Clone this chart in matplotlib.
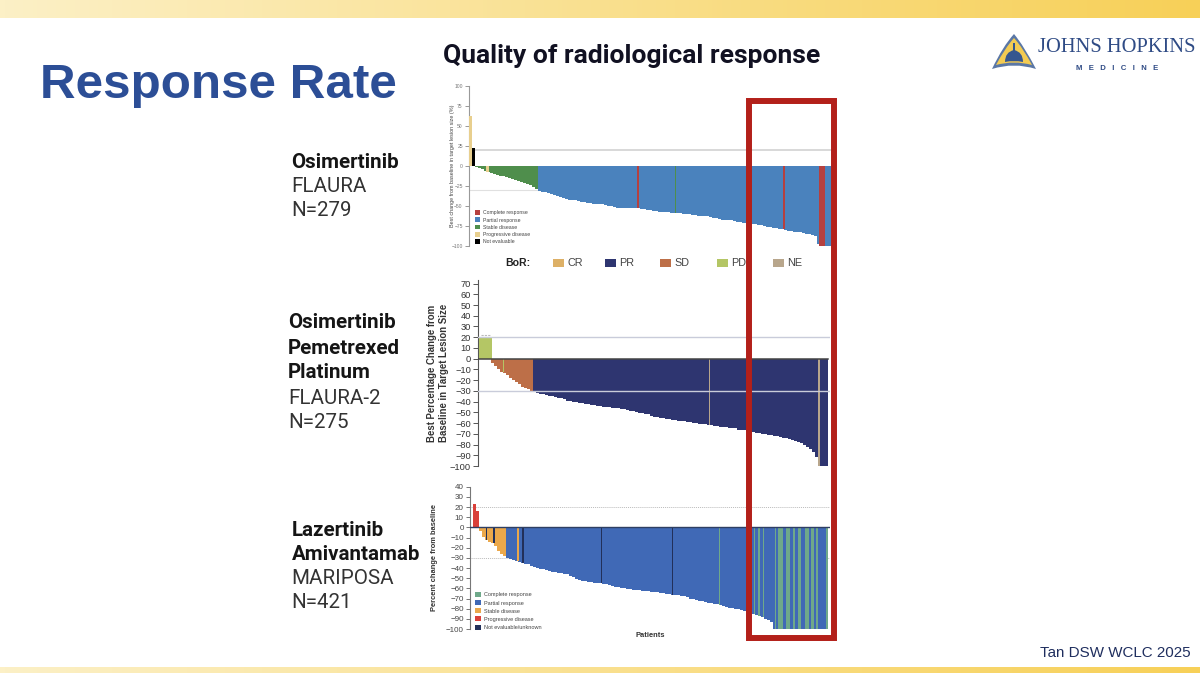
import numpy as np
import matplotlib
matplotlib.use("Agg")
import matplotlib.pyplot as plt
from matplotlib.patches import Rectangle, Patch, PathPatch
from matplotlib.path import Path

W, H = 1200, 673

# ---------- data ----------
p1_values = [62, 22, -1, -2, -4, -6, -8, -9, -10, -11, -12, -13, -14, -15, -16, -17, -19, -20, -21, -22, -24, -26, -29,
             -31, -32, -33, -34, -35, -36, -38, -39, -40, -41, -42, -43, -43, -44, -45, -45, -46, -46, -47, -47, -48, -48,
             -49, -50, -50, -51, -52, -52, -52, -53, -53, -53, -53, -53, -54, -54, -55, -55, -56, -56, -57, -58, -58, -58,
             -59, -59, -59, -59, -60, -60, -60, -61, -61, -62, -62, -63, -63, -64, -65, -65, -66, -67, -67, -68, -68, -69,
             -70, -70, -71, -71, -72, -73, -73, -74, -74, -75, -76, -76, -77, -78, -79, -79, -80, -81, -81, -82, -83, -83,
             -84, -85, -85, -86, -88, -98, -100, -100, -100, -100]
p1_runs = [("PD", 1), ("NE", 1), ("SD", 21), ("PR", 100)]
p1_marks = [(5.7, 1.0, "PD"), (55.9, 0.55, "CR"), (68.3, 0.55, "SD"), (104.4, 0.6, "CR"), (117.2, 2.0, "CR")]

p2_values = [20, 20, 20, 20, -4, -7, -10, -12, -13, -15, -18, -20, -22, -24, -26, -27, -28, -30,
             -31, -32, -33, -33, -34, -35, -35, -36, -37, -37, -38, -39, -39, -40, -40, -41, -41, -42, -42, -43, -43, -44,
             -44, -45, -45, -45, -46, -46, -46, -47, -47, -48, -49, -49, -50, -51, -51, -52, -52, -53, -54, -54, -55, -55,
             -56, -56, -57, -57, -58, -58, -58, -59, -59, -60, -60, -61, -61, -61, -62, -62, -63, -63, -64, -64, -64, -65,
             -65, -65, -66, -66, -66, -67, -68, -68, -69, -69, -70, -70, -71, -71, -72, -72, -73, -74, -74, -75, -76, -77,
             -78, -79, -80, -82, -84, -87, -92, -100, -100, -100]
p2_runs = [("PD", 4), ("SD", 14), ("PR", 100)]
p2_marks = [(7.4, 0.35, "PD"), (76.2, 0.3, "NE"), (112.6, 0.5, "NE")]

p3_values = [23, 16, -4, -9, -12, -14, -15, -18, -23, -26, -28,
             -30, -31, -32, -33, -34, -35, -36, -36, -38, -39, -40, -41, -41, -42, -43, -44, -44, -45, -45, -46, -46, -48,
             -49, -51, -52, -53, -53, -54, -54, -55, -55, -55, -56, -56, -57, -58, -59, -59, -60, -60, -61, -61, -62, -62,
             -62, -63, -63, -63, -64, -64, -64, -65, -65, -66, -66, -67, -67, -67, -68, -68, -69, -70, -70, -71, -72, -72,
             -73, -74, -74, -75, -75, -76, -77, -78, -79, -79, -80, -80, -81, -82, -83, -84, -85, -86, -87, -88, -90, -91,
             -93, -100, -100, -100, -100, -100, -100, -100, -100, -100, -100, -100, -100, -100, -100, -100, -100, -100, -100]
p3_runs = [("PD", 2), ("SD", 9), ("PR", 110)]
p3_marks = [(3.9, 0.35, "NE"), (6.4, 0.6, "NE"), (14.4, 0.4, "SD"), (16.1, 0.6, "NE"), (42.2, 0.4, "NE"),
            (66.0, 0.4, "NE"), (81.7, 0.3, "CR"), (93.3, 0.4, "CR"), (94.7, 0.4, "CR"), (96.2, 0.4, "CR"),
            (100.3, 0.4, "CR"), (101.85, 1.9, "CR"), (104.3, 1.4, "CR"), (106.5, 0.8, "CR"), (108.2, 0.8, "CR"),
            (110.65, 1.3, "CR"), (112.65, 0.9, "CR"), (114.1, 0.6, "CR"), (117.25, 0.7, "CR")]

p1_ticks = [100, 75, 50, 25, 0, -25, -50, -75, -100]
p2_ticks = [70, 60, 50, 40, 30, 20, 10, 0, -10, -20, -30, -40, -50, -60, -70, -80, -90, -100]
p3_ticks = [40, 30, 20, 10, 0, -10, -20, -30, -40, -50, -60, -70, -80, -90, -100]

resp_long = ["Complete response", "Partial response", "Stable disease", "Progressive disease"]
p3_legend_last = "Not evaluable/unknown"
p1_legend_last = "Not evaluable"
bor_labels = ["CR", "PR", "SD", "PD", "NE"]

# ---------- colours ----------
p1_col = {"CR": "#B5403F", "PR": "#4A82BD", "SD": "#4F8E4C", "PD": "#E8CF8E", "NE": "#000000"}
p2_col = {"CR": "#DDB066", "PR": "#2E3570", "SD": "#BD6F48", "PD": "#B4C665", "NE": "#B8A68C"}
p3_col = {"CR": "#6FA98A", "PR": "#4069B6", "SD": "#EBA84B", "PD": "#D9403A", "NE": "#22305A"}
NAVY = "#2C4E96"

fig = plt.figure(figsize=(W / 100, H / 100), dpi=100, facecolor="white")


def rect_axes(x0, y0, x1, y1, **kw):
    return fig.add_axes([x0 / W, 1 - y1 / H, (x1 - x0) / W, (y1 - y0) / H], **kw)


# ---------- background layer ----------
bg = rect_axes(0, 0, W, H, zorder=0)
bg.set_xlim(0, W)
bg.set_ylim(H, 0)
bg.axis("off")
grad = np.linspace(0, 1, 256)[None, :, None]
c0 = np.array([252, 240, 198]) / 255
c1 = np.array([247, 208, 88]) / 255
band = c0 + (c1 - c0) * grad
bg.imshow(band, extent=(0, W, 18, 0), aspect="auto")
bg.imshow(band, extent=(0, W, H, 667), aspect="auto")
bg.set_xlim(0, W)
bg.set_ylim(H, 0)

bg.text(40, 98, "Response Rate", color=NAVY, fontsize=35.6, fontweight="bold",
        family="Liberation Sans", ha="left", va="baseline")
bg.text(443, 56, "Quality of radiological response", color="#111122", fontsize=19, fontweight="bold",
        family="Roboto", ha="left", va="center")
bg.text(1191, 653, "Tan DSW WCLC 2025", color="#1F2E5E", fontsize=10.9, family="Liberation Sans",
        ha="right", va="center")

blocks = [
    (291, [("Osimertinib", 162, True), ("FLAURA", 186, False), ("N=279", 211, False)]),
    (288, [("Osimertinib", 323, True), ("Pemetrexed", 349, True), ("Platinum", 373, True),
           ("FLAURA-2", 398, False), ("N=275", 423, False)]),
    (291.5, [("Lazertinib", 530, True), ("Amivantamab", 555, True), ("MARIPOSA", 578, False), ("N=421", 603, False)]),
]
for x, rows in blocks:
    for label, y, bold in rows:
        bg.text(x, y, label, family="Roboto", fontsize=14.8, va="center", ha="left",
                fontweight="bold" if bold else "normal", color="#151515" if bold else "#333333")

# BoR legend
bg.text(505, 263, "BoR:", fontsize=7.6, fontweight="bold", family="Liberation Sans", color="#222222",
        va="center", ha="left")
for lab, x in zip(bor_labels, [553, 605, 660, 717, 773]):
    bg.add_patch(Rectangle((x, 259), 10.5, 8, facecolor=p2_col[lab], edgecolor="none"))
    bg.text(x + 14, 263, lab, fontsize=7.8, family="Liberation Sans", color="#444444", va="center", ha="left")

# logo
outer = Path([(1014, 34), (1024, 46), (1036, 69), (1014, 62), (992, 69), (1003, 46), (1014, 34)],
             [Path.MOVETO, Path.CURVE3, Path.LINETO, Path.CURVE3, Path.LINETO, Path.CURVE3, Path.LINETO])
bg.add_patch(PathPatch(outer, facecolor="#5A77A6", edgecolor="none"))
inner = Path([(1014, 38), (1023, 48), (1032, 65), (1014, 60), (996, 65), (1005, 48), (1014, 38)],
             [Path.MOVETO, Path.CURVE3, Path.LINETO, Path.CURVE3, Path.LINETO, Path.CURVE3, Path.LINETO])
bg.add_patch(PathPatch(inner, facecolor="#F3CB52", edgecolor="none"))
dome = Path([(1005, 62), (1005, 52), (1014, 50), (1023, 52), (1023, 62), (1014, 60), (1005, 62)],
            [Path.MOVETO, Path.CURVE3, Path.CURVE3, Path.CURVE3, Path.CURVE3, Path.CURVE3, Path.CURVE3])
bg.add_patch(PathPatch(dome, facecolor="#35568F", edgecolor="none"))
bg.add_patch(Rectangle((1012.7, 43), 2.6, 9, facecolor="#35568F", edgecolor="none"))
bg.text(1038, 47, "JOHNS HOPKINS", family="Liberation Serif", fontsize=14.8, color="#2F4B85",
        ha="left", va="center")
bg.text(1117, 69, "M   E   D   I   C   I   N   E", family="Liberation Sans", fontsize=5.6, fontweight="bold",
        color="#2F4B85", ha="center", va="center")


# ---------- chart panels ----------
def panel(box, ylim, values, runs, marks, palette, start_px, ticks, tick_size, tick_col, spine_col, tick_len=3):
    ax = rect_axes(*box, zorder=2)
    ax.patch.set_alpha(0)
    step = 3.0
    ax.set_xlim((box[0] - start_px) / step, (box[2] - start_px) / step)
    ax.set_ylim(*ylim)
    cats = [c for c, n in runs for _ in range(n)][:len(values)]
    cats += ["PR"] * (len(values) - len(cats))
    x = np.arange(len(values))
    ax.bar(x, values, width=1.03, color=[palette[c] for c in cats], linewidth=0, zorder=3)
    for pos, wid, cat in marks:
        val = values[min(int(round(pos)), len(values) - 1)]
        ax.bar(pos, val, width=wid, color=palette[cat], linewidth=0, zorder=4)
    for s in ["top", "right", "bottom"]:
        ax.spines[s].set_visible(False)
    ax.spines["left"].set_color(spine_col)
    ax.spines["left"].set_linewidth(0.8)
    ax.set_xticks([])
    ax.set_yticks(ticks)
    ax.set_yticklabels([str(t).replace("-", "\u2212") for t in ticks], fontsize=tick_size, color=tick_col,
                       family="Liberation Sans")
    ax.tick_params(axis="y", length=tick_len, width=0.7, color=spine_col, pad=1.5)
    return ax


# Panel 1
a1 = panel((469, 86, 831, 246), (-100, 100), p1_values, p1_runs, p1_marks, p1_col, 470.5,
           p1_ticks, 3.6, "#777777", "#999999")
a1.axhline(20, color="#D2D2D2", lw=1.2, zorder=1)
a1.axhline(-30, color="#E0E0E0", lw=0.8, zorder=1)
a1.set_ylabel("Best change from baseline in target lesion size (%)", fontsize=3.9, color="#444444",
              family="Liberation Sans", labelpad=-2.5)
h1 = [Patch(facecolor=p1_col[k], edgecolor="none") for k in ["CR", "PR", "SD", "PD", "NE"]]
a1.legend(h1, resp_long + [p1_legend_last], loc="lower left", bbox_to_anchor=(0.012, 0.0), frameon=False,
          labelcolor="#444444", handlelength=1.0, handleheight=1.0, handletextpad=0.6,
          labelspacing=0.42, borderpad=0.35, borderaxespad=0.0, prop={"family": "Liberation Sans", "size": 3.7})

# Panel 2
a2 = panel((478, 280, 830, 466), (-100, 73.3), p2_values, p2_runs, p2_marks, p2_col, 481,
           p2_ticks, 6.7, "#333333", "#555555", tick_len=3.6)
a2.axhline(0, xmin=0, xmax=0.995, color="#444444", lw=1.1, zorder=5)
a2.axhline(20, color="#C9CCDA", lw=1.0, zorder=5)
a2.axhline(-30, color="#C9CCDA", lw=1.0, zorder=5)
a2.set_ylabel("Best Percentage Change from\nBaseline in Target Lesion Size", fontsize=6.9, fontweight="bold",
              color="#333333", family="Liberation Sans", labelpad=0.5, linespacing=1.25)
a2.plot([0, 3.4], [22.5, 22.5], color="#BBBBBB", lw=0.8, ls=(0, (2, 1)), zorder=2)

# Panel 3
a3 = panel((470, 486.7, 830, 629), (-100, 40), p3_values, p3_runs, p3_marks, p3_col, 474.8,
           p3_ticks, 5.8, "#444444", "#777777")
a3.axhline(0, color="#2E3F63", lw=1.0, zorder=5)
a3.axhline(20, color="#BBBBBB", lw=0.7, ls=(0, (1, 1)), zorder=1)
a3.axhline(-30, color="#BBBBBB", lw=0.7, ls=(0, (1, 1)), zorder=1)
a3.set_ylabel("Percent change from baseline", fontsize=5.4, fontweight="bold", color="#333333",
              family="Liberation Sans", labelpad=5.5)
a3.set_xlabel("Patients", fontsize=5.4, fontweight="bold", color="#333333", family="Liberation Sans", labelpad=2.5)
h3 = [Patch(facecolor=p3_col[k], edgecolor="none") for k in ["CR", "PR", "SD", "PD", "NE"]]
a3.legend(h3, resp_long + [p3_legend_last], loc="lower left", bbox_to_anchor=(0.012, -0.015), frameon=False,
          labelcolor="#444444", handlelength=1.0, handleheight=1.0, handletextpad=0.6,
          labelspacing=0.5, borderpad=0.2, borderaxespad=0.0, prop={"family": "Liberation Sans", "size": 4.0})

# ---------- red highlight box ----------
top = rect_axes(0, 0, W, H, zorder=5)
top.set_xlim(0, W)
top.set_ylim(H, 0)
top.axis("off")
top.add_patch(Rectangle((748.5, 100.5), 85.5, 537, facecolor="none", edgecolor="#B3201A", linewidth=4.3))

fig.savefig("out.png", dpi=100)
